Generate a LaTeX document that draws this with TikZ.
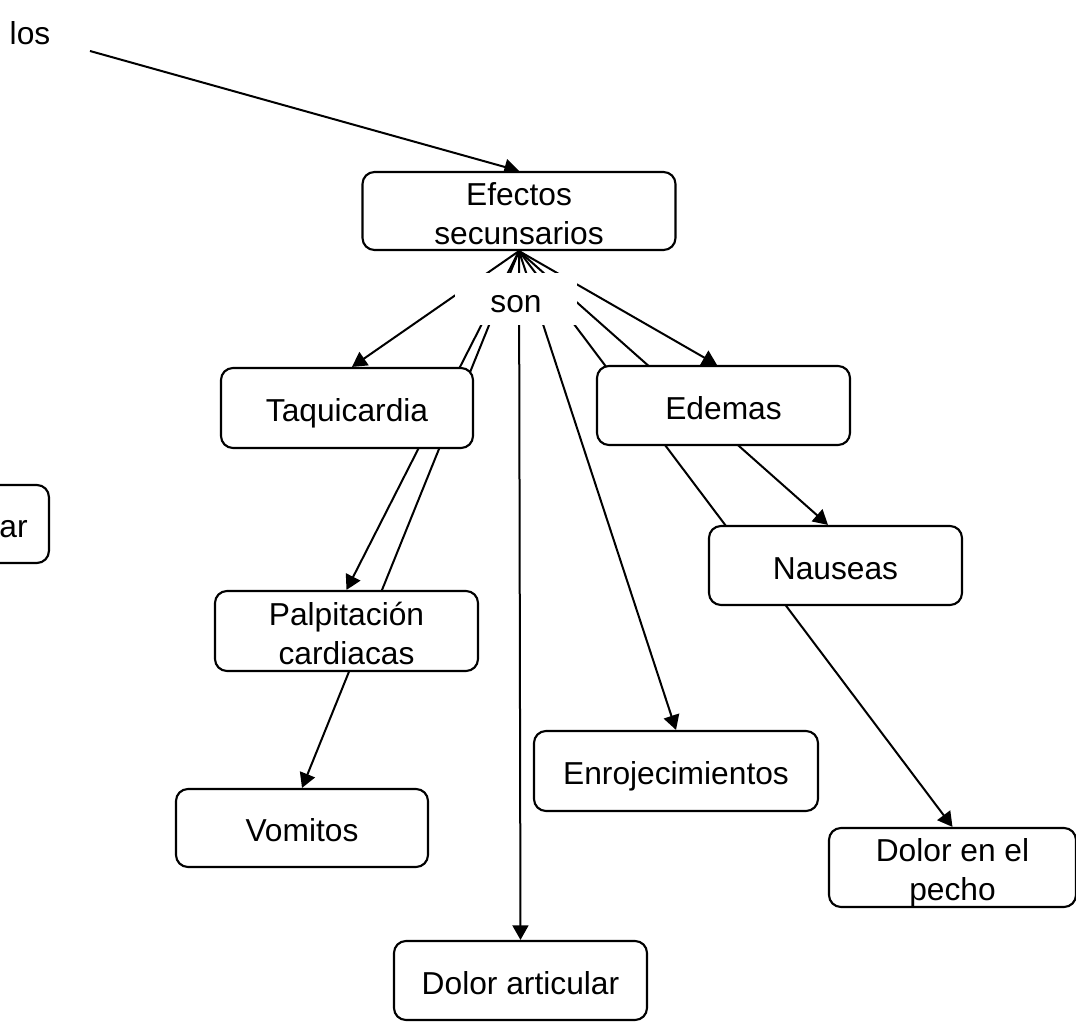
\documentclass[tikz,border=0pt]{standalone}
\usepackage{fontspec}
\setmainfont{Liberation Sans}
\usetikzlibrary{arrows.meta,backgrounds,calc}
\newcommand\bt[1]{\raisebox{-4.5pt}[\height][\depth]{\begin{tabular}{@{}c@{}}#1\end{tabular}}}
\tikzset{
  box/.style={draw, line width=1.6pt, rounded corners=9pt, fill=white,
    inner sep=0pt, font=\fontsize{23.8}{29.25}\selectfont},
  lbl/.style={inner sep=0pt, font=\fontsize{23.8}{29.25}\selectfont},
  conn/.style={line width=1.5pt, -{Triangle[length=11pt,width=12pt]}}
}
\begin{document}
\begin{tikzpicture}[x=0.75pt,y=-0.75pt]
\useasboundingbox (0,0) rectangle (1076,1023);
% nodes
\node[box, minimum width=234.75pt, minimum height=58.5pt] (ef) at (519,211) {\bt{Efectos\\secunsarios}};
\node[box, minimum width=189pt, minimum height=60pt] (taq) at (347,408) {\bt{Taquicardia}};
\node[box, minimum width=189.75pt, minimum height=59.25pt] (ede) at (723.5,405.5) {\bt{Edemas}};
\node[box, minimum width=189.75pt, minimum height=59.25pt] (nau) at (835.5,565.5) {\bt{Nauseas}};
\node[box, minimum width=197.25pt, minimum height=60pt] (pal) at (346.5,631) {\bt{Palpitación\\cardiacas}};
\node[box, minimum width=189pt, minimum height=58.5pt] (vom) at (302,828) {\bt{Vomitos}};
\node[box, minimum width=213pt, minimum height=60pt] (enr) at (676,771) {\bt{Enrojecimientos}};
\node[box, minimum width=185.25pt, minimum height=59.25pt] (dpe) at (952.5,867.5) {\bt{Dolor en el\\pecho}};
\node[box, minimum width=189.75pt, minimum height=59.25pt] (dar) at (520.5,980.5) {\bt{Dolor articular}};
\node[box, anchor=east, minimum width=189.75pt, minimum height=58.5pt] (ar) at (50,524) {\bt{\makebox[189.75pt][r]{ar\kern16pt}}};
\node[lbl] (los) at (30,33) {los};
\coordinate (losend) at (90,51);
\node[lbl, fill=white, minimum width=91.5pt, minimum height=39pt] (son) at (516,299) {\bt{son}};
% connectors
\begin{pgfonlayer}{background}
\draw[conn] (losend) -- (ef.north);
\draw[conn] (ef.south) -- ($(taq.north)+(5,0)$);
\draw[conn] (ef.south) -- (pal.north);
\draw[conn] (ef.south) -- (vom.north);
\draw[conn] (ef.south) -- (dar.north);
\draw[conn] (ef.south) -- (enr.north);
\draw[conn] (ef.south) -- ($(ede.north)+(-6.5,0)$);
\draw[conn] (ef.south) -- ($(nau.north)+(-7.5,0)$);
\draw[conn] (ef.south) -- (dpe.north);
\end{pgfonlayer}
\end{tikzpicture}
\end{document}
